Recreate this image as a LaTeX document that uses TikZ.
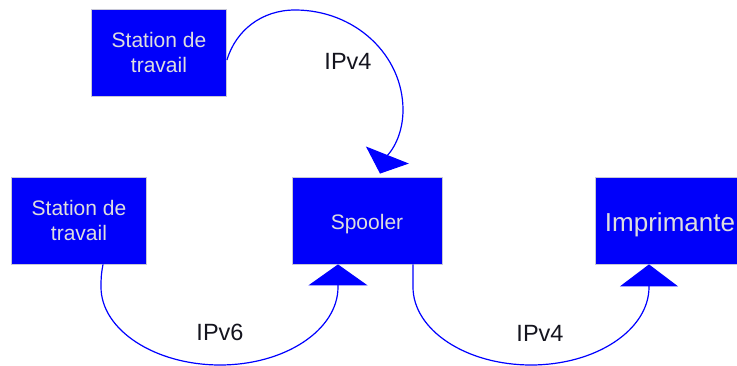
\documentclass[tikz,border=0pt]{standalone}
\usepackage{fontspec}
\setmainfont{Liberation Sans}
\usetikzlibrary{arrows.meta,calc}
\definecolor{boxblue}{RGB}{0,0,250}
\definecolor{boxtext}{RGB}{222,222,222}
\definecolor{boxedge}{RGB}{200,200,215}
\definecolor{linkblue}{RGB}{0,0,255}
\definecolor{labeltext}{RGB}{20,20,30}
\tikzset{
  box/.style={draw=boxedge, line width=0.8pt, fill=boxblue, text=boxtext, inner sep=0pt, align=center},
  stationbox/.style={box, minimum width=135pt, minimum height=87pt, font=\fontsize{21}{25}\selectfont},
  conn/.style={draw=linkblue, line width=1.2pt},
  lbl/.style={text=labeltext, font=\fontsize{23.5}{26}\selectfont, inner sep=0pt}
}
\begin{document}
\begin{tikzpicture}[x=1pt,y=1pt]
\useasboundingbox (0,0) rectangle (737,-366);
\fill[white] (0,0) rectangle (737,-366);

\node[stationbox] (ws1) at (159,-52.5) {Station de\\travail};
\node[stationbox] (ws2) at (79,-220.5) {Station de\\travail};
\node[box, minimum width=150pt, minimum height=87pt, font=\fontsize{21}{25}\selectfont, text height=22pt, text depth=4.4pt] (sp) at (367,-220.5) {Spooler};
\node[box, minimum width=150pt, minimum height=87pt, font=\fontsize{26}{30}\selectfont, text height=27pt, text depth=5.5pt] (pr) at (670,-220.5) {Imprimante};

% top IPv4 arc
\draw[conn, -{Triangle[width=46pt,length=20pt]}]
  ($(ws1.east)+(0,-7.5)$) .. controls (236,-30) and (262,-10) .. (295,-10)
  .. controls (355,-10) and (403,-55) .. (403,-110)
  .. controls (403,-128) and (397,-145) .. (387,-156)
  -- ($(sp.north)+(13,3)$);

% IPv6 arc
\draw[conn, -{Triangle[width=59pt,length=21pt]}]
  ($(ws2.south)+(24,0)$) .. controls (101,-275) and (101,-280) .. (101,-287)
  .. controls (101,-330) and (155,-365) .. (220,-365)
  .. controls (285,-365) and (338,-330) .. (338,-287)
  -- ($(sp.south)+(-29,0)$);

% bottom IPv4 arc
\draw[conn, -{Triangle[width=58pt,length=22pt]}]
  ($(sp.south)+(46,0)$) .. controls (413,-275) and (413,-280) .. (413,-287)
  .. controls (413,-330) and (466,-365) .. (531,-365)
  .. controls (596,-365) and (649,-330) .. (649,-287)
  -- ($(pr.south)+(-21,0)$);

\node[lbl] (l1) at (348,-61) {IPv4};
\node[lbl] (l2) at (220,-332) {IPv6};
\node[lbl] (l3) at (540,-333) {IPv4};
\end{tikzpicture}
\end{document}
